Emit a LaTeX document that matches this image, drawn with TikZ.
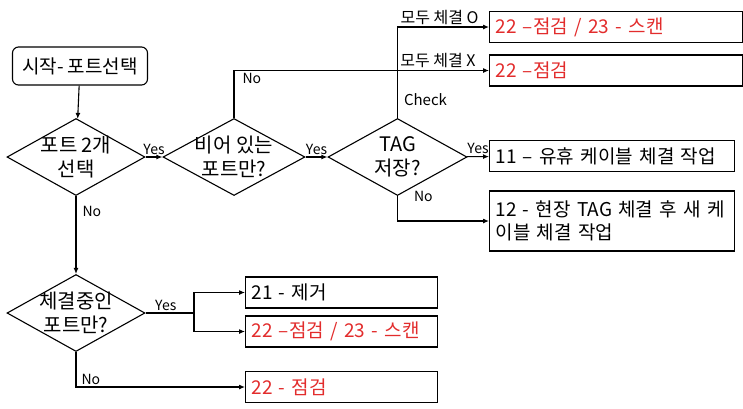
\documentclass[tikz,border=0pt]{standalone}
\usepackage{fontspec}
\setmainfont{Noto Sans CJK KR}
\usetikzlibrary{shapes.geometric,arrows.meta}
\definecolor{jobred}{RGB}{226,44,44}

\begin{document}
\begin{tikzpicture}[x=1pt, y=-1pt, line width=1.1pt,
    start/.style = {draw, rounded corners=6pt, minimum width=135pt, minimum height=38pt, font=\fontsize{19}{22}\selectfont},
    dec/.style = {draw, diamond, minimum width=#1, minimum height=77pt, inner sep=0pt},
    dectext/.style = {align=center, inner sep=0pt, font=\fontsize{20}{24}\selectfont},
    job/.style = {draw, anchor=west, minimum height=31pt, text width=#1, align=left, inner xsep=6pt, font=\fontsize{19}{23}\selectfont},
    hot/.style = {text=jobred},
    lab/.style = {inner sep=2pt, font=\fontsize{14}{16}\selectfont},
    flow/.style = {-{Latex[length=6pt,width=5pt]}}]
    \useasboundingbox (0,0) rectangle (743,408);
    % start and decisions
    \node[start] (start) at (80,66) {시작- 포트선택};
    \node[dec=138pt, label={[dectext]center:{포트 2개\\선택}}] (two) at (76,157) {};
    \node[dec=142pt, label={[dectext]center:{비어 있는\\포트만?}}] (empty) at (234,157) {};
    \node[dec=139pt, label={[dectext]center:{TAG\\저장?}}] (tag) at (397.5,157) {};
    \node[dec=138pt, label={[dectext]center:{체결중인\\포트만?}}] (busy) at (76,313) {};
    % jobs
    \node[job=241pt, hot] (scanA) at (489,27) {22 –점검 / 23 - 스캔};
    \node[job=241pt, hot] (checkA) at (489,70.5) {22 –점검};
    \node[job=233pt] (idle) at (489,156) {11 – 유휴 케이블 체결 작업};
    \node[job=233pt, minimum height=60pt] (site) at (489,221) {12 - 현장 TAG 체결 후 새 케\\이블 체결 작업};
    \node[job=180pt] (remove) at (245,292.5) {21 - 제거};
    \node[job=180pt, hot] (scanB) at (245,331.5) {22 –점검 / 23 - 스캔};
    \node[job=180pt, hot] (checkB) at (245,387) {22 - 점검};
    \coordinate (fork) at (194,313);
    % connectors
    \draw[flow] (start) -- (two);
    \draw[flow] (two) -- node[lab, above] {Yes} (empty);
    \draw[flow] (empty) -- node[lab, above] {Yes} (tag);
    \draw[flow] (tag) -- node[lab, above] {Yes} (idle);
    \draw[flow] (tag.south) |- node[lab, pos=0, anchor=west, xshift=14pt] {No} (site.west);
    \draw[flow] (empty.north) |- node[lab, pos=0.5, below right, xshift=6pt] {No}
        node[lab, pos=0.9, above, font=\fontsize{16}{18}\selectfont] {모두 체결 X} (checkA.west);
    \draw[flow] (tag.north) |- node[lab, pos=0.1, right, xshift=4pt, font=\fontsize{15}{17}\selectfont] {Check}
        node[lab, pos=0.73, above, font=\fontsize{16}{18}\selectfont] {모두 체결 O} (scanA.west);
    \draw[flow] (two) -- node[lab, pos=0.2, right, xshift=4pt] {No} (busy);
    \draw (busy) -- node[lab, above, xshift=-4pt] {Yes} (fork);
    \draw[flow] (fork) |- (remove.west);
    \draw[flow] (fork) |- (scanB.west);
    \draw[flow] (busy.south) |- node[lab, pos=0.5, above right, xshift=3pt] {No} (checkB.west);
\end{tikzpicture}
\end{document}
